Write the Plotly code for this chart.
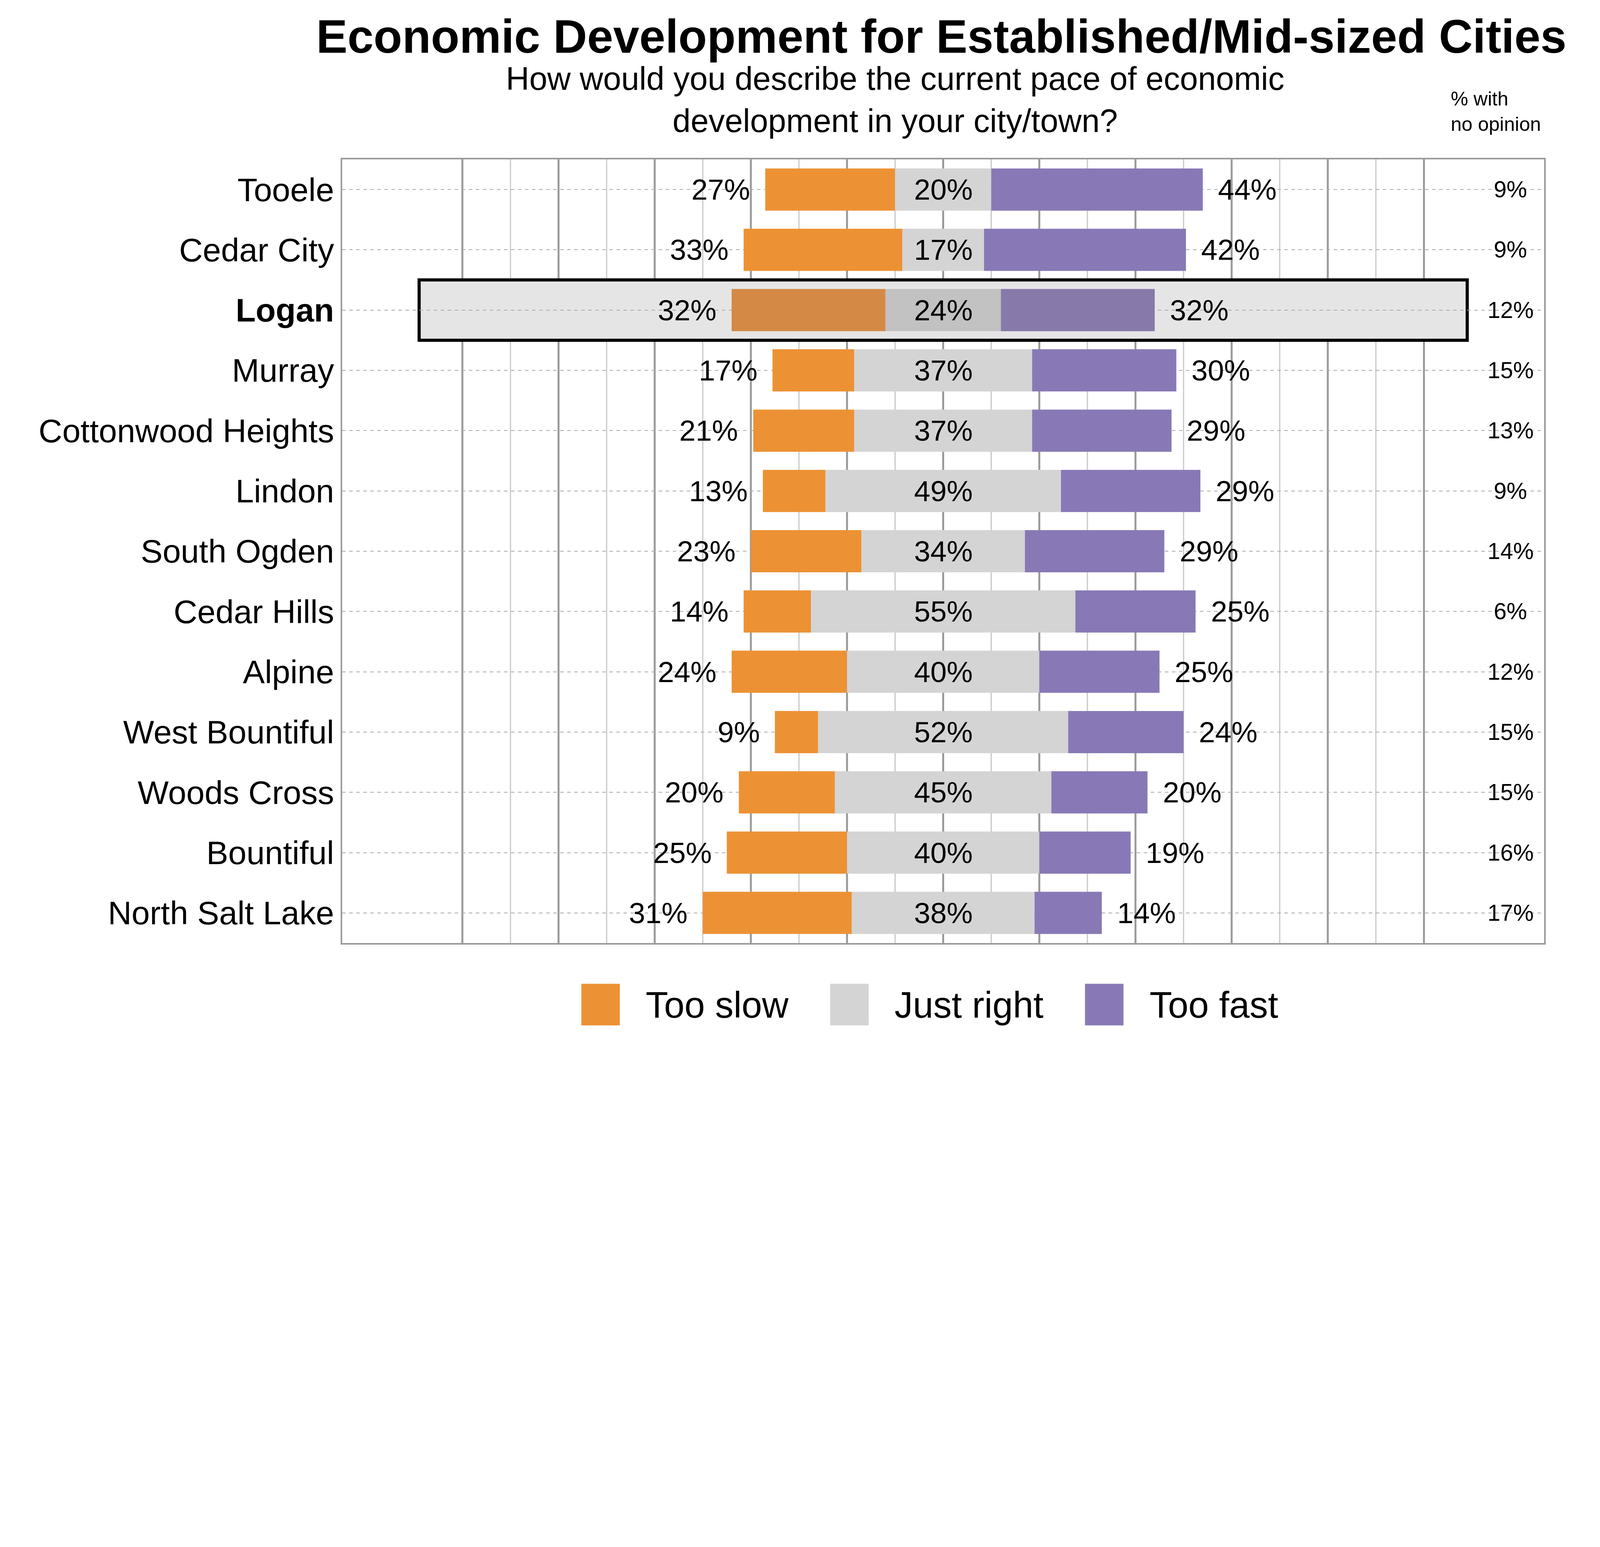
import plotly.graph_objects as go

cities = ["Tooele", "Cedar City", "Logan", "Murray", "Cottonwood Heights", "Lindon",
          "South Ogden", "Cedar Hills", "Alpine", "West Bountiful", "Woods Cross",
          "Bountiful", "North Salt Lake"]
too_slow = [27, 33, 32, 17, 21, 13, 23, 14, 24, 9, 20, 25, 31]
just_right = [20, 17, 24, 37, 37, 49, 34, 55, 40, 52, 45, 40, 38]
too_fast = [44, 42, 32, 30, 29, 29, 29, 25, 25, 24, 20, 19, 14]
no_opinion = [9, 9, 12, 15, 13, 9, 14, 6, 12, 15, 15, 16, 17]
highlight = "Logan"
series_names = ["Too slow", "Just right", "Too fast"]

ORANGE, GRAY, PURPLE = "#EC9235", "#D4D4D4", "#8879B6"
ORANGE_H, GRAY_H, PURPLE_H = "#D48A45", "#C2C2C2", "#8779AA"
FONT = "Liberation Sans, Arial, sans-serif"

ys = list(range(len(cities)))
hi = [c == highlight for c in cities]
half = [j / 2 for j in just_right]

fig = go.Figure()
fig.add_trace(go.Bar(
    y=ys, x=too_slow, base=[-h - s for h, s in zip(half, too_slow)], orientation="h",
    name="Too slow", marker=dict(color=[ORANGE_H if h else ORANGE for h in hi], line_width=0),
    width=0.7))
fig.add_trace(go.Bar(
    y=ys, x=just_right, base=[-h for h in half], orientation="h",
    name="Just right", marker=dict(color=[GRAY_H if h else GRAY for h in hi], line_width=0),
    width=0.7))
fig.add_trace(go.Bar(
    y=ys, x=too_fast, base=half, orientation="h",
    name="Too fast", marker=dict(color=[PURPLE_H if h else PURPLE for h in hi], line_width=0),
    width=0.7))

lab = dict(family=FONT, size=75, color="black")
for y, s, j, f, n in zip(ys, too_slow, just_right, too_fast, no_opinion):
    fig.add_annotation(x=-j / 2 - s - 3, y=y, text=f"{s}%", xanchor="right", showarrow=False, font=lab)
    fig.add_annotation(x=0, y=y, text=f"{j}%", xanchor="center", showarrow=False, font=lab)
    fig.add_annotation(x=j / 2 + f + 3, y=y, text=f"{f}%", xanchor="left", showarrow=False, font=lab)
    fig.add_annotation(x=118, y=y, text=f"{n}%", xanchor="center", showarrow=False,
                       font=dict(family=FONT, size=59, color="black"))

# highlight box for Logan
li = cities.index(highlight)
fig.add_shape(type="rect", x0=-109, x1=109, y0=li - 0.5, y1=li + 0.5,
              fillcolor="#E5E5E5", line=dict(color="black", width=8), layer="below")

# vertical grid lines
for v in range(-100, 101, 10):
    major = v % 20 == 0
    fig.add_shape(type="line", x0=v, x1=v, y0=0, y1=1, yref="paper",
                  line=dict(color="#9A9A9A" if major else "#C8C8C8", width=5 if major else 3),
                  layer="below")

# manual legend
leg_x = [0.199, 0.406, 0.618]
for name, col, x0 in zip(series_names, [ORANGE, GRAY, PURPLE], leg_x):
    fig.add_shape(type="rect", xref="paper", yref="paper", x0=x0, x1=x0 + 0.032,
                  y0=-0.105, y1=-0.052, fillcolor=col, line_width=0)
    fig.add_annotation(xref="paper", yref="paper", x=x0 + 0.053, y=-0.079, text=name,
                       xanchor="left", yanchor="middle", showarrow=False,
                       font=dict(family=FONT, size=94, color="black"))

fig.add_annotation(x=115, y=1.03, xref="x", yref="paper", text="% with<br>no opinion",
                   xanchor="center", yanchor="bottom", align="left", showarrow=False,
                   font=dict(family=FONT, size=50, color="black"))
fig.add_annotation(x=-10, y=1.025, xref="x", yref="paper",
                   text="How would you describe the current pace of economic<br>development in your city/town?",
                   xanchor="center", yanchor="bottom", showarrow=False,
                   font=dict(family=FONT, size=83, color="black"))

ticktext = [f"<b>{c}</b>" if c == highlight else c for c in cities]

fig.update_layout(
    width=4071, height=2840, barmode="overlay",
    paper_bgcolor="white", plot_bgcolor="white", showlegend=False,
    margin=dict(l=868, r=126, t=400, b=434),
    title=dict(text="<b>Economic Development for Established/Mid-sized Cities</b>",
               x=0.59, xanchor="center", y=0.985, yanchor="top",
               font=dict(family=FONT, size=120, color="black")),
    xaxis=dict(range=[-125, 125], showticklabels=False, showgrid=False, zeroline=False,
               showline=True, mirror=True, linecolor="#9A9A9A", linewidth=4),
    yaxis=dict(tickvals=ys, ticktext=ticktext, autorange="reversed",
               tickfont=dict(family=FONT, size=84, color="black"),
               showgrid=True, gridcolor="#AAAAAA", griddash="dash", gridwidth=2,
               zeroline=False, showline=True, mirror=True, linecolor="#9A9A9A", linewidth=4,
               ticks="", ticklen=0),
)

fig.write_html("out.html")
